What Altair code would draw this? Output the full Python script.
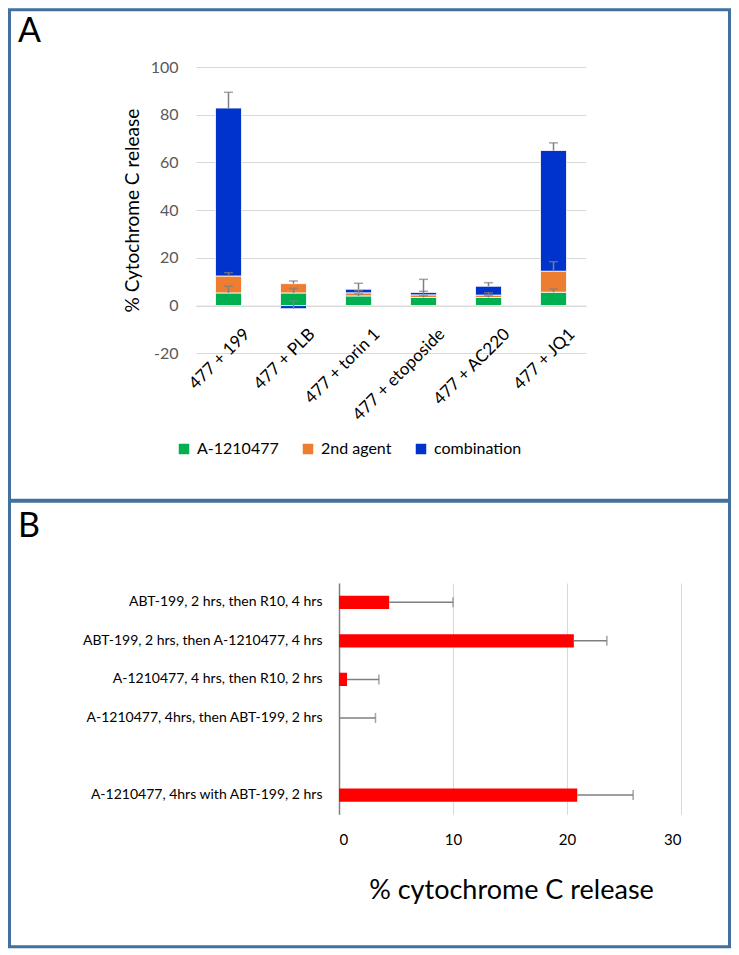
import altair as alt
import pandas as pd

FONT = "Lato"
FRAME = "#41719C"
ERRC = "#7f7f7f"

# ---------------- Panel A data ----------------
combos = ["477 + 199", "477 + PLB", "477 + torin 1", "477 + etoposide", "477 + AC220", "477 + JQ1"]
series = ["A-1210477", "2nd agent", "combination"]
series_colors = ["#00B050", "#ED7D31", "#0033CC"]
a1210477 = [5.3, 5.3, 4.05, 3.4, 3.4, 5.6]
second_agent = [7.1, 3.9, 1.3, 1.1, 1.0, 8.8]
combination = [70.4, -1.3, 1.5, 1.0, 3.7, 50.6]
a1210477_err = [2.8, 1.9, 0.8, 0.7, 0.7, 1.4]
second_agent_err = [1.4, 1.1, 0.9, 1.5, 1.0, 4.0]
combination_err = [6.6, 3.2, 2.5, 5.5, 1.5, 3.2]

# ---------------- Panel B data ----------------
conditions = [
    "ABT-199, 2 hrs, then R10, 4 hrs",
    "ABT-199, 2 hrs, then A-1210477, 4 hrs",
    "A-1210477, 4 hrs, then R10, 2 hrs",
    "A-1210477, 4hrs, then ABT-199, 2 hrs",
    "A-1210477, 4hrs with ABT-199, 2 hrs",
]
row_order = conditions[:4] + [" "] + conditions[4:]
release = [4.4, 20.6, 0.7, 0.0, 20.9]
release_err = [5.6, 2.9, 2.8, 3.2, 4.9]

one = pd.DataFrame({"k": [0]})
no_view = alt.ViewBackground(stroke="transparent", strokeWidth=0)

# ---------------- Panel A ----------------
rows = []
for i, c in enumerate(combos):
    pos, neg = 0.0, 0.0
    for j, (s, vals, errs) in enumerate(zip(series,
                                            [a1210477, second_agent, combination],
                                            [a1210477_err, second_agent_err, combination_err])):
        v = vals[i]
        if v >= 0:
            pos += v
            top = pos
        else:
            neg += v
            top = neg
        rows.append(dict(combo=c, series=s, order=j, value=v, top=top, err_top=top + errs[i]))
dfA = pd.DataFrame(rows)

W_A, H_A = 390, 286.3
x_scale = alt.Scale(domain=combos, paddingInner=0.6, paddingOuter=0.3)
x_axis = alt.Axis(title=None, labelAngle=-45, labelAlign="right", labelBaseline="top",
                  labelFontSize=17, labelFont=FONT, labelColor="black", ticks=False,
                  domainColor="#d9d9d9", domainWidth=1, offset=-H_A * 20 / 120,
                  labelPadding=20, labelOffset=13, grid=False)
y_scale = alt.Scale(domain=[-20, 100], nice=False)
y_axis = alt.Axis(values=[-20, 0, 20, 40, 60, 80, 100], title="% Cytochrome C release",
                  labelExpr="'' + datum.value",
                  titleFontSize=19, titleFont=FONT, titleFontWeight="normal", titleColor="black",
                  titlePadding=8, labelFontSize=16, labelFont=FONT, labelColor="#595959",
                  ticks=False, domain=False, labelPadding=18, gridColor="#d9d9d9", gridWidth=1)

barsA = alt.Chart(dfA).mark_bar(stroke="white", strokeWidth=0.8).encode(
    x=alt.X("combo:N", scale=x_scale, axis=x_axis),
    y=alt.Y("value:Q", stack="zero", scale=y_scale, axis=y_axis),
    color=alt.Color("series:N", scale=alt.Scale(domain=series, range=series_colors),
                    legend=alt.Legend(title=None, orient="none", legendX=-20, legendY=374,
                                      direction="horizontal", symbolType="square", symbolSize=110,
                                      symbolStrokeWidth=0, labelFontSize=16, labelFont=FONT,
                                      labelColor="black", columnPadding=21, labelOffset=5,
                                      padding=0)),
    order=alt.Order("order:Q"),
)
errA = alt.Chart(dfA).mark_rule(color=ERRC, strokeWidth=1.5).encode(
    x=alt.X("combo:N", scale=x_scale), y=alt.Y("top:Q", scale=y_scale), y2="err_top:Q")
capA = alt.Chart(dfA).mark_tick(color=ERRC, thickness=1.5, size=9).encode(
    x=alt.X("combo:N", scale=x_scale), y=alt.Y("err_top:Q", scale=y_scale))
frameA = alt.Chart(one).mark_rect(fillOpacity=0, stroke=FRAME, strokeWidth=3).encode(
    x=alt.value(-186.5), x2=alt.value(533.5), y=alt.value(-57.2), y2=alt.value(433.3))
letterA = alt.Chart(one).mark_text(text="A", fontSize=34, font=FONT, align="left",
                                   baseline="alphabetic", color="black").encode(
    x=alt.value(-178), y=alt.value(-25.5))

panelA = alt.layer(barsA, errA, capA, frameA, letterA).properties(
    width=W_A, height=H_A, view=no_view)

# ---------------- Panel B ----------------
dfB = pd.DataFrame({"cond": conditions, "val": release,
                    "err_end": [v + e for v, e in zip(release, release_err)]})
W_B, H_B = 485, 231.3
yB_scale = alt.Scale(domain=row_order, paddingInner=0.655, paddingOuter=0.3275)
yB_axis = alt.Axis(title=None, offset=-143, labelFontSize=14, labelFont=FONT, labelColor="black",
                   ticks=False, domainColor="#808080", domainWidth=1.5, labelPadding=17,
                   labelLimit=400, grid=False)
xB_scale = alt.Scale(domain=[0, 30], range=[143, 485], nice=False)
xB_axis = alt.Axis(values=[0, 10, 20, 30], title="% cytochrome C release", titleFontSize=27,
                   titleFont=FONT, titleFontWeight="normal", titleColor="black", titleX=315,
                   titleY=84, titleBaseline="alphabetic", labelFontSize=15, labelColor="black",
                   labelFont=FONT, domain=False, ticks=False, labelPadding=18,
                   gridColor="#d9d9d9", gridWidth=1)

barsB = alt.Chart(dfB).mark_bar(color="#FF0000").encode(
    y=alt.Y("cond:N", scale=yB_scale, axis=yB_axis),
    x=alt.X("val:Q", scale=xB_scale, axis=xB_axis),
)
errB = alt.Chart(dfB).mark_rule(color=ERRC, strokeWidth=1.5).encode(
    y=alt.Y("cond:N", scale=yB_scale), x=alt.X("val:Q", scale=xB_scale), x2="err_end:Q")
capB = alt.Chart(dfB).mark_tick(color=ERRC, thickness=1.5, size=10).encode(
    y=alt.Y("cond:N", scale=yB_scale), x=alt.X("err_end:Q", scale=xB_scale))
frameB = alt.Chart(one).mark_rect(fillOpacity=0, stroke=FRAME, strokeWidth=3).encode(
    x=alt.value(-186.5), x2=alt.value(533.5), y=alt.value(-81.7), y2=alt.value(363.8))
letterB = alt.Chart(one).mark_text(text="B", fontSize=34, font=FONT, align="left",
                                   baseline="alphabetic", color="black").encode(
    x=alt.value(-178), y=alt.value(-46))

panelB = alt.layer(barsB, errB, capB, frameB, letterB).properties(
    width=W_B, height=H_B, view=no_view)

chart = alt.vconcat(panelA, panelB, spacing=-3).resolve_scale(color="independent").resolve_legend(
    color="independent").properties(padding=0, background="white").configure(
    font=FONT).configure_view(stroke="transparent", strokeWidth=0)

chart.save("out.html", embed_options={"renderer": "svg", "actions": False})
